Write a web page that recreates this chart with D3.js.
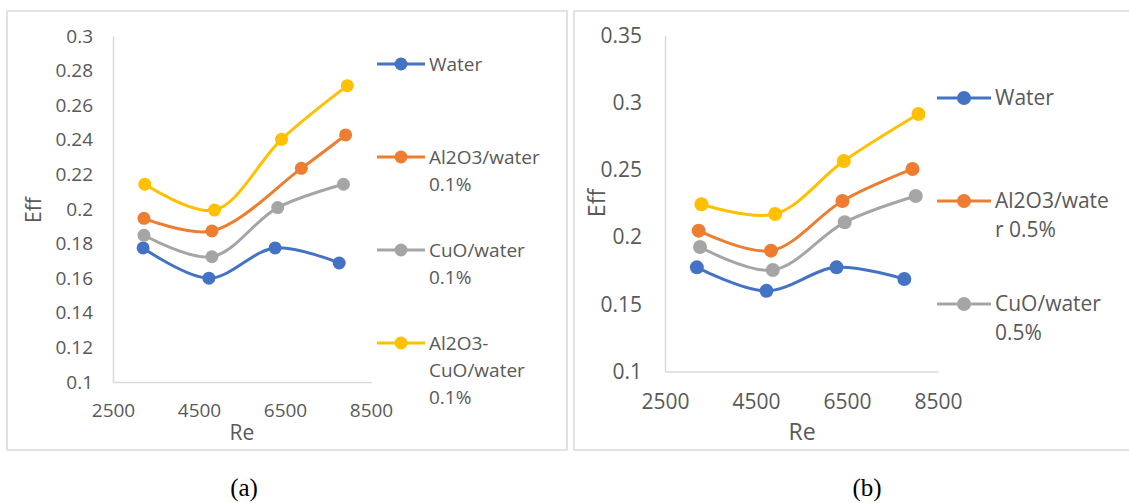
<!DOCTYPE html>
<html>
<head>
<meta charset="utf-8">
<script src="https://cdn.jsdelivr.net/npm/d3@7"></script>
<style>
  html, body { margin: 0; padding: 0; background: #fff; }
  svg { display: block; }
  text { font-family: "Open Sans", "Noto Sans", sans-serif; fill: #595959; }
  .caption { font-family: "Liberation Serif", "DejaVu Serif", serif; fill: #000; }
</style>
</head>
<body>
<svg id="chart" width="1129" height="503"></svg>
<script>
// Reynolds number ticks shared by both panels
const reTicks = [2500, 4500, 6500, 8500];
const effTicksA = [0.1, 0.12, 0.14, 0.16, 0.18, 0.2, 0.22, 0.24, 0.26, 0.28, 0.3];
const effTicksB = [0.1, 0.15, 0.2, 0.25, 0.3, 0.35];

// Pure water (same in both panels)
const waterRe  = [3200, 4730, 6270, 7760];
const waterEff = [0.1775, 0.160, 0.1775, 0.1688];

// 0.1% volume fraction
const al2o3Re01   = [3220, 4800, 6880, 7910];
const al2o3Eff01  = [0.1946, 0.1873, 0.2235, 0.2428];
const cuoRe01     = [3220, 4800, 6330, 7860];
const cuoEff01    = [0.1848, 0.1724, 0.2008, 0.2143];
const hybridRe01  = [3240, 4860, 6420, 7950];
const hybridEff01 = [0.2143, 0.1994, 0.2403, 0.2713];

// 0.5% volume fraction
const al2o3Re05   = [3240, 4830, 6400, 7940];
const al2o3Eff05  = [0.2048, 0.1899, 0.2269, 0.2507];
const cuoRe05     = [3270, 4870, 6450, 8010];
const cuoEff05    = [0.1926, 0.1755, 0.2110, 0.2306];
const hybridRe05  = [3300, 4920, 6430, 8070];
const hybridEff05 = [0.2244, 0.2172, 0.2566, 0.2916];

// Legend labels, one entry per text line
const legendA = [["Water"], ["Al2O3/water", "0.1%"], ["CuO/water", "0.1%"], ["Al2O3-", "CuO/water", "0.1%"]];
const legendB = [["Water"], ["Al2O3/wate", "r 0.5%"], ["CuO/water", "0.5%"]];

const colors = ["#4472C4", "#ED7D31", "#A5A5A5", "#FFC000"];

const zip = (xs, ys) => xs.map((x, i) => ({ x, y: ys[i] }));

const svg = d3.select("#chart");

function drawPanel(cfg) {
  const g = svg.append("g");

  // chart frame
  g.append("rect")
    .attr("x", cfg.frame[0]).attr("y", cfg.frame[1])
    .attr("width", cfg.frame[2]).attr("height", cfg.frame[3])
    .attr("fill", "#fff").attr("stroke", "#D9D9D9").attr("stroke-width", 1.5);

  const x = d3.scaleLinear().domain([2500, 8500]).range(cfg.xRange);
  const y = d3.scaleLinear().domain(cfg.yDomain).range(cfg.yRange);

  const fmt = v => String(+v.toFixed(2));

  const yAxis = g.append("g")
    .attr("transform", `translate(${cfg.xRange[0]},0)`)
    .call(d3.axisLeft(y).tickValues(cfg.yTicks).tickFormat(fmt)
      .tickSize(0).tickPadding(cfg.yPad));
  const xAxis = g.append("g")
    .attr("transform", `translate(0,${cfg.yRange[0]})`)
    .call(d3.axisBottom(x).tickValues(reTicks).tickFormat(d3.format("d"))
      .tickSize(0).tickPadding(cfg.xPad));
  [xAxis, yAxis].forEach(a => {
    a.select(".domain").attr("stroke", "#D9D9D9").attr("stroke-width", 1.5);
    a.selectAll("text")
      .style("font-family", '"Open Sans", "Noto Sans", sans-serif')
      .style("font-size", cfg.font + "px").attr("fill", "#595959");
  });

  // axis titles
  g.append("text")
    .attr("x", cfg.reTitle[0]).attr("y", cfg.reTitle[1])
    .attr("text-anchor", "middle").attr("dy", "0.35em")
    .style("font-size", (cfg.font + 2) + "px").text("Re");
  g.append("text")
    .attr("transform", `translate(${cfg.effTitle[0]},${cfg.effTitle[1]}) rotate(-90)`)
    .attr("text-anchor", "middle").attr("dy", "0.35em")
    .style("font-size", (cfg.font + 2) + "px").text("Eff");

  const line = d3.line()
    .x(d => x(d.x)).y(d => y(d.y))
    .curve(d3.curveCatmullRom.alpha(0.5));

  cfg.series.forEach((s, i) => {
    g.append("path")
      .datum(s)
      .attr("d", line)
      .attr("fill", "none")
      .attr("stroke", colors[i])
      .attr("stroke-width", 3)
      .attr("stroke-linecap", "round");
    g.selectAll(null).data(s).enter().append("circle")
      .attr("cx", d => x(d.x)).attr("cy", d => y(d.y))
      .attr("r", cfg.r).attr("fill", colors[i]);
  });

  // legend
  cfg.legend.forEach((lines, i) => {
    const ly = cfg.legendY[i];
    g.append("line")
      .attr("x1", cfg.legendX[0]).attr("x2", cfg.legendX[1])
      .attr("y1", ly).attr("y2", ly)
      .attr("stroke", colors[i]).attr("stroke-width", 3);
    g.append("circle")
      .attr("cx", (cfg.legendX[0] + cfg.legendX[1]) / 2).attr("cy", ly)
      .attr("r", cfg.r).attr("fill", colors[i]);
    lines.forEach((t, j) => {
      g.append("text")
        .attr("x", cfg.legendX[1] + 4)
        .attr("y", ly + j * cfg.lineGap)
        .attr("dy", "0.35em")
        .style("font-size", cfg.font + "px")
        .text(t);
    });
  });
}

drawPanel({
  frame: [7, 11, 560, 439],
  xRange: [113, 371],
  yDomain: [0.1, 0.3],
  yRange: [382, 36],
  yTicks: effTicksA,
  yPad: 20,
  xPad: 22,
  font: 19,
  r: 6.5,
  reTitle: [242, 433],
  effTitle: [34, 210],
  series: [zip(waterRe, waterEff), zip(al2o3Re01, al2o3Eff01), zip(cuoRe01, cuoEff01), zip(hybridRe01, hybridEff01)],
  legend: legendA,
  legendX: [377, 425],
  legendY: [64, 157, 250, 343],
  lineGap: 27
});

drawPanel({
  frame: [574, 11, 560, 439],
  xRange: [665, 938],
  yDomain: [0.1, 0.35],
  yRange: [371.5, 35.5],
  yTicks: effTicksB,
  yPad: 23,
  xPad: 23,
  font: 21,
  r: 7,
  reTitle: [802, 432],
  effTitle: [597, 203],
  series: [zip(waterRe, waterEff), zip(al2o3Re05, al2o3Eff05), zip(cuoRe05, cuoEff05), zip(hybridRe05, hybridEff05)],
  legend: legendB,
  legendX: [937, 991],
  legendY: [98, 201, 304],
  lineGap: 29
});

// sub-figure captions
svg.append("text").attr("class", "caption")
  .attr("x", 244).attr("y", 496).attr("text-anchor", "middle")
  .style("font-size", "25px").text("(a)");
svg.append("text").attr("class", "caption")
  .attr("x", 867).attr("y", 496).attr("text-anchor", "middle")
  .style("font-size", "25px").text("(b)");
</script>
</body>
</html>
